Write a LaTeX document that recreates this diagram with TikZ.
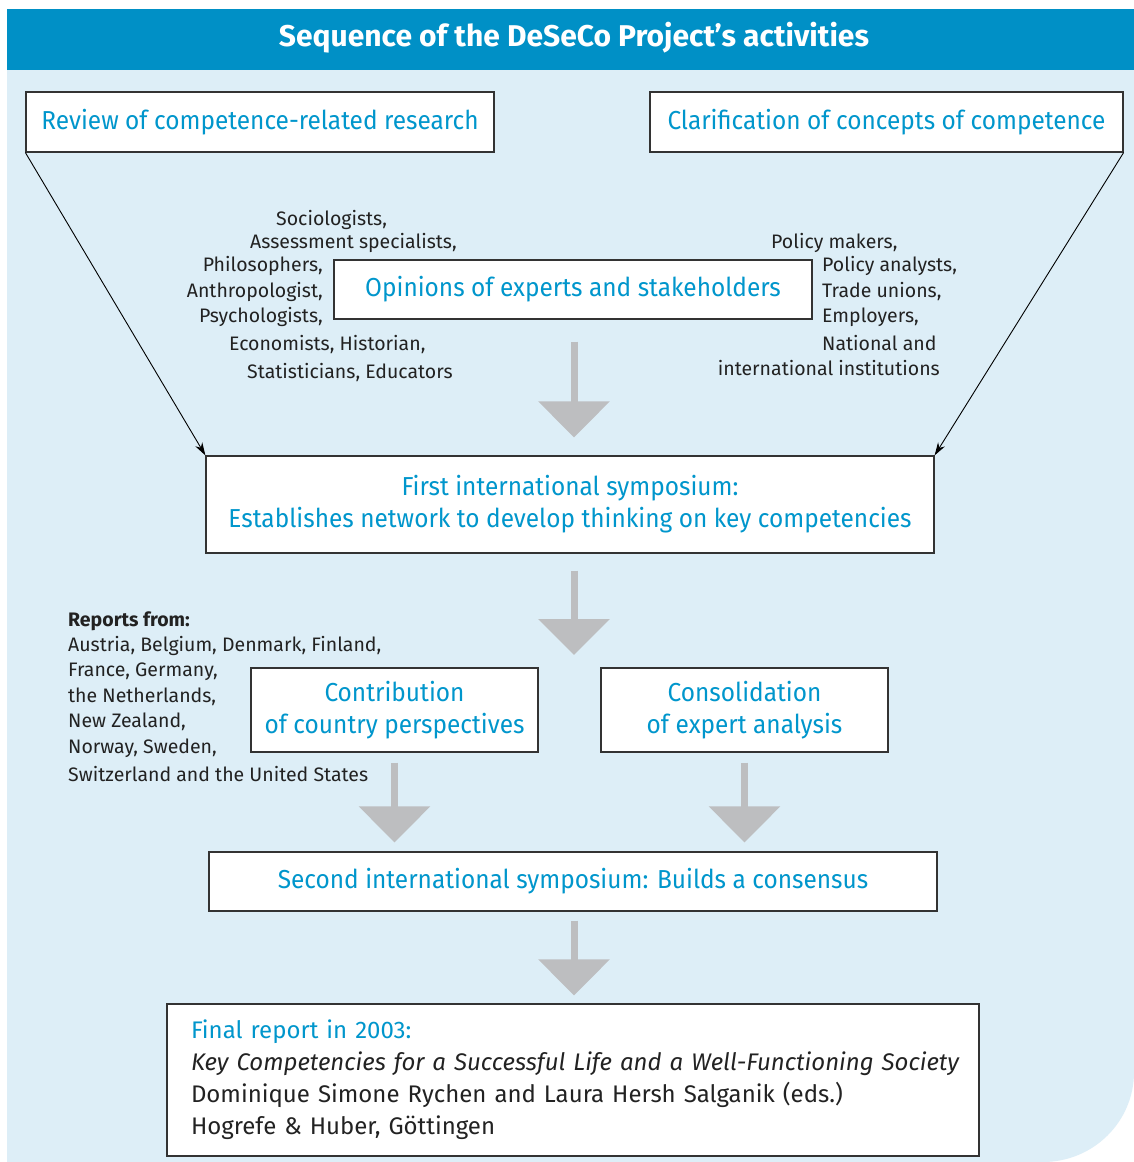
\documentclass[tikz,border=0pt]{standalone}
\usepackage{fontspec}
\setmainfont{Fira Sans}
\newfontfamily\boxfont{Fira Sans}[FakeStretch=0.94]
\usetikzlibrary{arrows.meta,calc}
\definecolor{barblue}{HTML}{0090C6}
\definecolor{bgblue}{HTML}{DDEEF7}
\definecolor{txtblue}{HTML}{0096CC}
\definecolor{txtdark}{HTML}{222222}
\definecolor{arrowgray}{HTML}{BDBEC0}
\definecolor{framegray}{HTML}{333333}
\tikzset{
  box/.style={draw=framegray, line width=1.2pt, fill=white, text=txtblue,
    font={\boxfont\fontsize{26}{32}\selectfont}, inner sep=0pt, align=center},
  lbl/.style={text=txtdark, font={\fontsize{19.5}{25}\selectfont}, inner sep=0pt},
  grayarrow/.style={draw=arrowgray, line width=7pt,
    -{Triangle[width=70pt,length=36pt]}},
  thinarrow/.style={draw=black, line width=0.9pt,
    -{Stealth[length=13pt,width=8pt]}},
}
\begin{document}
\begin{tikzpicture}[x=1pt,y=-1pt]
\useasboundingbox (0,0) rectangle (1134,1162);
\fill[white] (0,0) rectangle (1134,1162);
\fill[bgblue] (7,1162) -- (7,70) -- (1134,70) -- (1134,1072)
  .. controls (1134,1122) and (1093,1162) .. (1043,1162) -- cycle;
\fill[barblue] (7,9) rectangle (1134,70);
\node[text=white, font={\fontsize{30}{36}\selectfont\bfseries}, inner sep=0pt] (title) at (574,38) {Sequence of the DeSeCo Project’s activities};

\node[box, minimum width=468pt, minimum height=60pt] (review) at (260,122) {Review of competence-related research};
\node[box, minimum width=473pt, minimum height=60pt] (clar) at (886.5,122) {Clarification of concepts of competence};
\node[box, minimum width=478pt, minimum height=59pt] (opin) at (573,289.5) {Opinions of experts and stakeholders};
\node[box, minimum width=728pt, minimum height=97pt] (sym1) at (570,504.5) {First international symposium:\\Establishes network to develop thinking on key competencies};
\node[box, minimum width=287pt, minimum height=84pt] (contrib) at (394.5,710) {Contribution\\of country perspectives};
\node[box, minimum width=287pt, minimum height=84pt] (consol) at (744.5,710) {Consolidation\\of expert analysis};
\node[box, minimum width=728pt, minimum height=59pt] (sym2) at (573,881.5) {Second international symposium: Builds a consensus};
\node[box, font={\fontsize{24}{32}\selectfont}, minimum width=812pt, minimum height=152pt, text width=764pt, align=left, text=txtdark] (final) at (573,1080) {\textcolor{txtblue}{Final report in 2003:}\\\mbox{\textit{Key Competencies for a Successful Life and a Well-Functioning Society}}\\Dominique Simone Rychen and Laura Hersh Salganik (eds.)\\Hogrefe \& Huber, Göttingen};

% left labels
\node[lbl, anchor=west] (l1) at (276,220) {Sociologists,};
\node[lbl, anchor=west] (l2) at (250,243) {Assessment specialists,};
\node[lbl, anchor=east] (l3) at (323,266) {Philosophers,};
\node[lbl, anchor=east] (l4) at (323,292) {Anthropologist,};
\node[lbl, anchor=east] (l5) at (323,317) {Psychologists,};
\node[lbl, anchor=west] (l6) at (229,345) {Economists, Historian,};
\node[lbl, anchor=west] (l7) at (247,373) {Statisticians, Educators};
% right labels
\node[lbl, anchor=west] (r1) at (771,243) {Policy makers,};
\node[lbl, anchor=west] (r2) at (822,266) {Policy analysts,};
\node[lbl, anchor=west] (r3) at (822,292) {Trade unions,};
\node[lbl, anchor=west] (r4) at (822,317) {Employers,};
\node[lbl, anchor=west] (r5) at (822,343) {National and};
\node[lbl, anchor=east] (r6) at (940,368) {international institutions};
% reports
\node[lbl, anchor=west, font={\fontsize{19.5}{25}\selectfont\bfseries}] (rep0) at (68,621) {Reports from:};
\node[lbl, anchor=west] (rep1) at (68,646) {Austria, Belgium, Denmark, Finland,};
\node[lbl, anchor=west] (rep2) at (68,672) {France, Germany,};
\node[lbl, anchor=west] (rep3) at (68,697) {the Netherlands,};
\node[lbl, anchor=west] (rep4) at (68,722) {New Zealand,};
\node[lbl, anchor=west] (rep5) at (68,748) {Norway, Sweden,};
\node[lbl, anchor=west] (rep6) at (68,774) {Switzerland and the United States};

% thin arrows
\draw[thinarrow] (review.south west) -- (sym1.north west);
\draw[thinarrow] (clar.south east) -- (sym1.north east);

% gray arrows
\coordinate (a2end) at (574,655);
\draw[grayarrow, shorten <=22pt, shorten >=18pt] (opin.south -| a2end) -- (sym1.north -| a2end);
\draw[grayarrow, shorten <=17pt] (sym1.south -| a2end) -- (a2end);
\draw[grayarrow, shorten <=10pt, shorten >=9pt] (contrib.south) -- (contrib.south |- sym2.north);
\draw[grayarrow, shorten <=10pt, shorten >=9pt] (consol.south) -- (consol.south |- sym2.north);
\draw[grayarrow, shorten <=9pt, shorten >=8pt] (sym2.south -| a2end) -- (final.north -| a2end);
\end{tikzpicture}
\end{document}
